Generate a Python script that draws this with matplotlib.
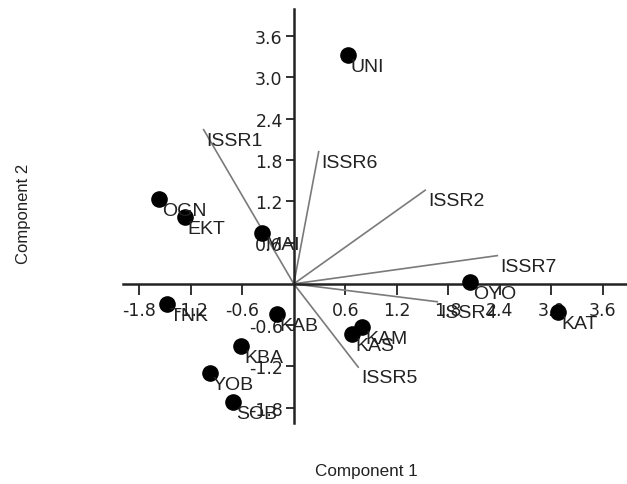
import matplotlib
matplotlib.use("Agg")
import matplotlib.pyplot as plt

# Accession scores
accessions = ["UNI", "OGN", "EKT", "MAI", "OYO", "KAT", "KAM", "KAS",
              "TNK", "KAB", "KBA", "YOB", "SOB"]
pc1 = [0.63, -1.57, -1.27, -0.37, 2.05, 3.08, 0.80, 0.68,
       -1.48, -0.20, -0.61, -0.98, -0.71]
pc2 = [3.32, 1.23, 0.97, 0.74, 0.03, -0.41, -0.62, -0.73,
       -0.29, -0.44, -0.90, -1.29, -1.71]

# Marker loadings
markers = ["ISSR1", "ISSR6", "ISSR2", "ISSR7", "ISSR4", "ISSR5"]
load1 = [-1.05, 0.29, 1.53, 2.37, 1.67, 0.75]
load2 = [2.24, 1.92, 1.36, 0.41, -0.26, -1.21]

xticks = [-1.8, -1.2, -0.6, 0.6, 1.2, 1.8, 2.4, 3.0, 3.6]
yticks = [-1.8, -1.2, -0.6, 0.6, 1.2, 1.8, 2.4, 3.0, 3.6]

plt.rcParams['font.family'] = ['Liberation Sans', 'DejaVu Sans']

fig = plt.figure(figsize=(6.27, 4.85), dpi=100)
ax = fig.add_axes([0.196, 0.126, 0.804, 0.853])
ax.set_xlim(-1.99, 3.88)
ax.set_ylim(-2.02, 3.99)

tc = '#222222'
for name, lx, ly in zip(markers, load1, load2):
    ax.plot([0, lx], [0, ly], color='#7a7a7a', lw=1.2, zorder=2)
    ax.annotate(name, (lx, ly), xytext=(3, -2), textcoords='offset pixels',
                ha='left', va='top', fontsize=14, color=tc, zorder=4)

ax.scatter(pc1, pc2, s=120, color='black', zorder=5)
for name, x, y in zip(accessions, pc1, pc2):
    ax.annotate(name, (x, y), xytext=(3, -3), textcoords='offset pixels',
                ha='left', va='top', fontsize=14, color=tc, zorder=6)

for s in ['top', 'right']:
    ax.spines[s].set_visible(False)
ax.spines['left'].set_position(('data', 0))
ax.spines['bottom'].set_position(('data', 0))
for s in ['left', 'bottom']:
    ax.spines[s].set_linewidth(1.8)
    ax.spines[s].set_color('#222222')

ax.set_xticks(xticks)
ax.set_yticks(yticks)
ax.set_xticklabels([f"{v:.1f}" for v in xticks])
ax.set_yticklabels([f"{v:.1f}" for v in yticks])
ax.tick_params(axis='both', direction='out', width=1.3,
               labelsize=12.5, colors='#222222')
ax.tick_params(axis='x', length=8, pad=4)
ax.tick_params(axis='y', length=6, pad=2)
for lab in ax.get_xticklabels() + ax.get_yticklabels():
    lab.set_fontfamily('DejaVu Sans')

fig.text(0.585, 0.027, "Component 1", ha='center', va='center',
         fontsize=12.3, color=tc)
fig.text(0.037, 0.558, "Component 2", ha='center', va='center',
         rotation=90, fontsize=12, color=tc)

fig.savefig("out.png", dpi=100)
